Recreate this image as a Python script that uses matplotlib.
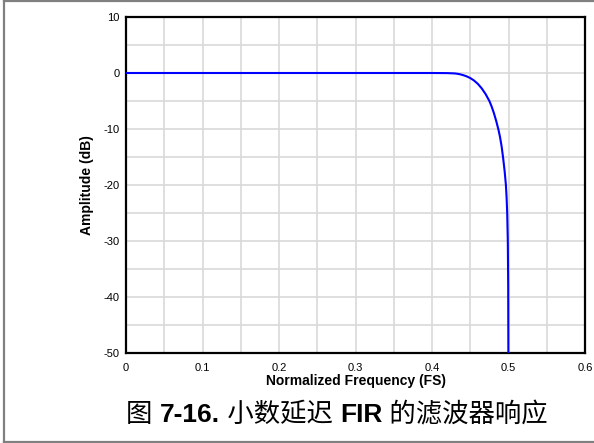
import matplotlib
matplotlib.use("Agg")
import matplotlib.pyplot as plt
from matplotlib.lines import Line2D
from matplotlib.ticker import MultipleLocator

plt.rcParams['font.family'] = ['Liberation Sans', 'Noto Sans CJK SC', 'DejaVu Sans']

# Magnitude response of the fractional-delay FIR filter
freq = [0.0, 0.1, 0.2, 0.3, 0.4, 0.42, 0.43, 0.435, 0.44, 0.445, 0.45,
        0.455, 0.46, 0.465, 0.47, 0.475, 0.478, 0.481, 0.484, 0.487,
        0.489, 0.491, 0.493, 0.495, 0.4966, 0.4975, 0.4983, 0.4991, 0.4996, 0.5]
amp_db = [0.0, 0.0, 0.0, 0.0, 0.0, -0.02, -0.08, -0.18, -0.35, -0.58, -0.9,
          -1.35, -1.95, -2.75, -3.75, -5.0, -6.0, -7.2, -8.6, -10.2,
          -11.5, -13.1, -15.2, -17.6, -20.0, -22.2, -25.0, -30.0, -38.0, -60.0]

x_ticks = [0, 0.1, 0.2, 0.3, 0.4, 0.5, 0.6]
x_tick_labels = ["0", "0.1", "0.2", "0.3", "0.4", "0.5", "0.6"]
y_ticks = [10, 0, -10, -20, -30, -40, -50]
y_tick_labels = ["10", "0", "-10", "-20", "-30", "-40", "-50"]

# Caption pieces: (text, weight)
caption_parts = [("图 ", 500), ("7-16.", "bold"), (" 小数延迟 ", 500),
                 ("FIR", "bold"), (" 的滤波器响应", 500)]

W, H = 594, 443
fig = plt.figure(figsize=(W / 100, H / 100), dpi=100)

# Frame lines along the top, left and bottom of the figure
frame_kw = dict(transform=fig.transFigure, color='#808080', linewidth=1.6)
fig.add_artist(Line2D([4 / W, 1.0], [1 - 0.8 / H, 1 - 0.8 / H], **frame_kw))
fig.add_artist(Line2D([4 / W, 4 / W], [1.5 / H, 1 - 0.8 / H], **frame_kw))
fig.add_artist(Line2D([4 / W, 1.0], [1.5 / H, 1.5 / H], **frame_kw))

ax = fig.add_axes([126 / W, 1 - 353 / H, 459 / W, 336 / H])
ax.plot(freq, amp_db, color='#0000ff', linewidth=1.5, solid_joinstyle='round', zorder=3)

ax.set_xlim(0, 0.6)
ax.set_ylim(-50, 10)
ax.set_xticks(x_ticks)
ax.set_xticklabels(x_tick_labels)
ax.set_yticks(y_ticks)
ax.set_yticklabels(y_tick_labels)
ax.xaxis.set_minor_locator(MultipleLocator(0.05))
ax.yaxis.set_minor_locator(MultipleLocator(5))
ax.grid(True, which='both', color='#d9d9d9', linewidth=1.2)
ax.set_axisbelow(True)
ax.tick_params(which='both', length=0)
ax.tick_params(axis='x', pad=7.5, labelsize=8)
ax.tick_params(axis='y', pad=4.5, labelsize=8)
for s in ax.spines.values():
    s.set_linewidth(1.6)
    s.set_color('black')

ax.set_xlabel("Normalized Frequency (FS)", fontsize=10, fontweight='bold', va='top')
ax.xaxis.set_label_coords(0.5, (353 - 373.5) / 336)
ax.set_ylabel("Amplitude (dB)", fontsize=10, fontweight='bold', va='center')
ax.yaxis.set_label_coords((87 - 126) / 459, 0.5)

# Caption: lay out the pieces left to right, then centre the whole line
renderer = fig.canvas.get_renderer()
y_cap = 1 - 414.5 / H
texts = []
x_px = 0.0
for txt, wt in caption_parts:
    t = fig.text(0, y_cap, txt, fontsize=19, fontweight=wt, ha='left', va='center')
    t.set_x(x_px / W)
    bb = t.get_window_extent(renderer)
    texts.append((t, x_px))
    x_px += bb.width
total = x_px
start = 337 - total / 2
for t, off in texts:
    t.set_x((start + off) / W)

fig.savefig("out.png", dpi=100)
